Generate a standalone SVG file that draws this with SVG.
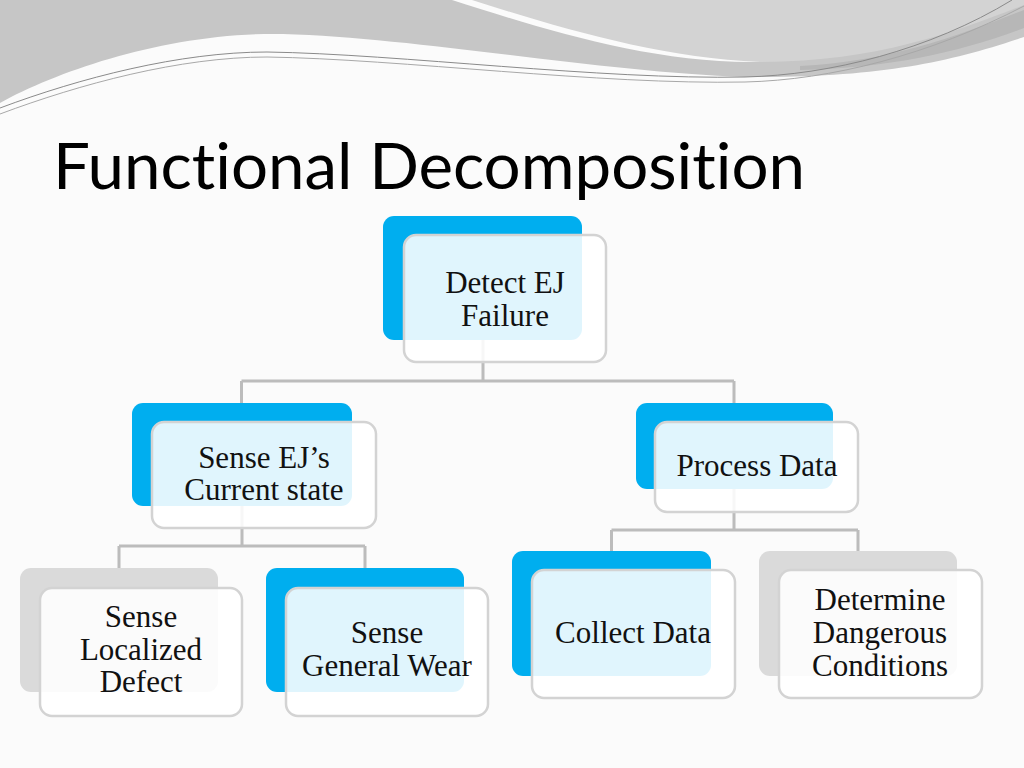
<svg xmlns="http://www.w3.org/2000/svg" width="1024" height="768" viewBox="0 0 1024 768">
<style>
.back-blue{fill:#00aeef}
.back-grey{fill:#dadada}
.front{fill:#ffffff;fill-opacity:0.88;stroke:#d3d3d3;stroke-width:2.5}
.lbl{font-family:"Liberation Serif","Times New Roman",serif;font-size:31px;fill:#111;text-anchor:middle}
.conn{fill:none;stroke:#bcbcbc;stroke-width:3}
.title{font-family:Lato,"Open Sans","Liberation Sans",sans-serif;font-size:64px;fill:#000;font-variant-ligatures:none;font-feature-settings:"liga" 0}
</style>
<rect width="1024" height="768" fill="#fbfbfb"/>
<g id="swoosh">
<path d="M0,0 L1024,0 L1024,37 C950,62 880,78 745,77 C600,72 420,38 283,34 C170,32 60,70 0,103 Z" fill="#c6c6c6"/>
<path d="M470,0 C560,30 660,62 760,62 C880,62 960,30 1024,5 L1024,0 Z" fill="#d3d3d3"/>
<path d="M452,0 L472,0 C560,28 660,58 760,62 C650,64 540,28 452,0 Z" fill="#fbfbfb"/>
<path d="M800,66 C890,62 960,35 1024,10 L1024,28 C960,52 890,68 800,70 Z" fill="#b7b7b7"/>
<path d="M0,108 C80,78 180,52 267,52 C400,54 600,80 745,77 C830,75 930,50 1012,0" fill="none" stroke="#8a8a8a" stroke-width="1"/>
<path d="M0,114 C80,84 180,57 267,57 C400,59 600,85 745,82 C830,80 930,55 1024,6" fill="none" stroke="#a8a8a8" stroke-width="1"/>
</g>
<text class="title" x="53" y="189" textLength="752" lengthAdjust="spacingAndGlyphs">Functional Decomposition</text>
<g id="connectors">
<path class="conn" d="M483,340 V381 M241.5,381 H734 M241.5,381 V403 M734,381 V403"/>
<path class="conn" d="M242,506 V546 M119,546 H365 M119,546 V568 M365,546 V568"/>
<path class="conn" d="M734,489 V530 M611.5,530 H858 M611.5,530 V551 M858,530 V551"/>
</g>
<g id="n1">
<rect class="back-blue" x="383" y="216" width="199" height="124" rx="11"/>
<rect class="front" x="404" y="235" width="202" height="127" rx="12"/>
<text class="lbl" x="505" y="293">Detect EJ</text>
<text class="lbl" x="505" y="326">Failure</text>
</g>
<g id="n2">
<rect class="back-blue" x="132" y="403" width="220" height="103" rx="11"/>
<rect class="front" x="152" y="422" width="224" height="106" rx="12"/>
<text class="lbl" x="264" y="468">Sense EJ’s</text>
<text class="lbl" x="264" y="500">Current state</text>
</g>
<g id="n3">
<rect class="back-blue" x="636" y="403" width="197" height="86" rx="11"/>
<rect class="front" x="655" y="422" width="203" height="90" rx="12"/>
<text class="lbl" x="757" y="476">Process Data</text>
</g>
<g id="n4">
<rect class="back-grey" x="20" y="568" width="198" height="124" rx="11"/>
<rect class="front" x="40" y="588" width="202" height="128" rx="12"/>
<text class="lbl" x="141" y="627">Sense</text>
<text class="lbl" x="141" y="660">Localized</text>
<text class="lbl" x="141" y="692">Defect</text>
</g>
<g id="n5">
<rect class="back-blue" x="266" y="568" width="198" height="124" rx="11"/>
<rect class="front" x="286" y="588" width="202" height="128" rx="12"/>
<text class="lbl" x="387" y="643">Sense</text>
<text class="lbl" x="387" y="676">General Wear</text>
</g>
<g id="n6">
<rect class="back-blue" x="512" y="551" width="199" height="125" rx="11"/>
<rect class="front" x="532" y="570" width="203" height="128" rx="12"/>
<text class="lbl" x="633" y="643">Collect Data</text>
</g>
<g id="n7">
<rect class="back-grey" x="759" y="551" width="198" height="125" rx="11"/>
<rect class="front" x="779" y="570" width="203" height="128" rx="12"/>
<text class="lbl" x="880" y="610">Determine</text>
<text class="lbl" x="880" y="643">Dangerous</text>
<text class="lbl" x="880" y="676">Conditions</text>
</g>
</svg>
